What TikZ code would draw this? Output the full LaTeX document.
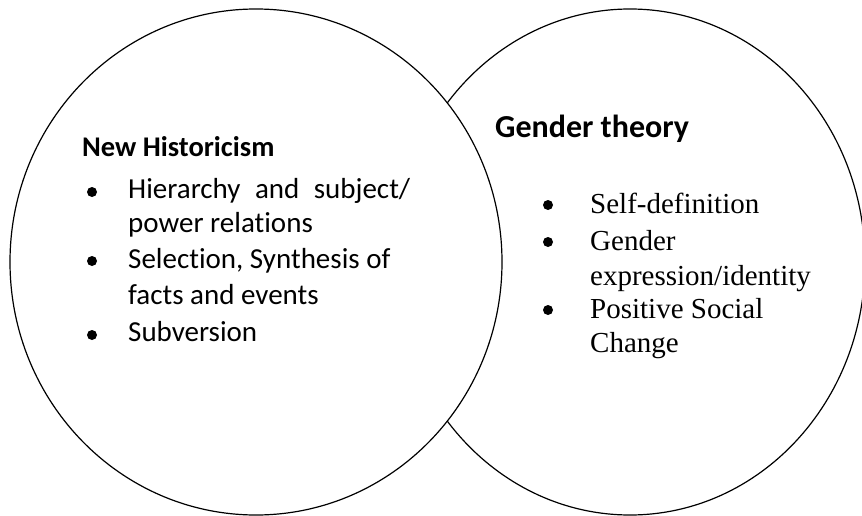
\documentclass[tikz,border=0pt]{standalone}
\usepackage{fontspec}
\setmainfont{Carlito}[Ligatures=NoCommon]
\newfontfamily\timesfont{Liberation Serif}[Ligatures=NoCommon]
\begin{document}
\begin{tikzpicture}[x=1pt,y=-1pt]
    % Define styles for circles, headings and list lines
    \tikzset{
        venn/.style={draw,line width=1.2pt},
        heading/.style={anchor=base west,inner sep=0pt,font=\bfseries\fontsize{28.5}{34}\selectfont},
        entry/.style={anchor=base west,inner sep=0pt,font=\fontsize{29}{35}\selectfont},
        serifentry/.style={anchor=base west,inner sep=0pt,font=\timesfont\fontsize{29}{35}\selectfont},
        bulletdot/.style={circle,fill,inner sep=0pt,minimum size=10pt}
    }
    \useasboundingbox (0,0) rectangle (862,516);

    % Right circle first, the left one is filled white on top of it
    \draw[venn] (630,262) ellipse (235 and 253);
    \filldraw[venn,fill=white] (256,262) ellipse (246 and 253);

    % Left circle: New Historicism
    \node[heading] (nh) at (82,157) {New Historicism};
    \node[entry] (nh1) at (128,198) {\makebox[282pt][s]{Hierarchy and subject/}};
    \node[entry] (nh2) at (128,232) {power relations};
    \node[entry] (nh3) at (128,268) {Selection, Synthesis of};
    \node[entry] (nh4) at (128,304) {facts and events};
    \node[entry] (nh5) at (128,341) {Subversion};
    \foreach \y/\name in {192/a, 261/b, 335/c}{
        \node[bulletdot] (nhb\name) at (92,\y) {};
    }

    % Right circle: Gender theory
    \node[heading,font=\bfseries\fontsize{32}{38}\selectfont] (gt) at (495,138) {Gender theory};
    \node[serifentry] (gt1) at (590,213) {Self-definition};
    \node[serifentry] (gt2) at (590,250) {Gender};
    \node[serifentry] (gt3) at (590,285) {expression/identity};
    \node[serifentry] (gt4) at (590,318) {Positive Social};
    \node[serifentry] (gt5) at (590,352) {Change};
    \foreach \y/\name in {205/a, 242/b, 310/c}{
        \node[bulletdot] (gtb\name) at (548,\y) {};
    }
\end{tikzpicture}
\end{document}
